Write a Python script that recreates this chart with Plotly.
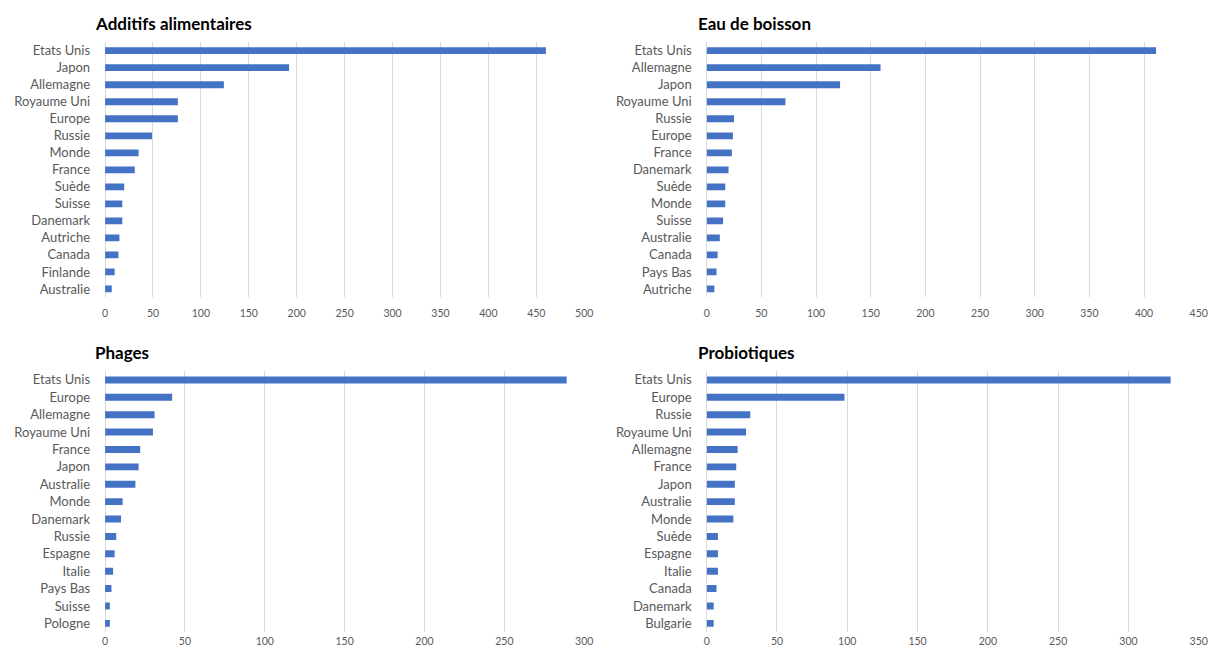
import plotly.graph_objects as go

# ---- Data ----
additifs_pays = ["Etats Unis", "Japon", "Allemagne", "Royaume Uni", "Europe", "Russie", "Monde",
                 "France", "Suède", "Suisse", "Danemark", "Autriche", "Canada", "Finlande", "Australie"]
additifs_vals = [460, 192, 124, 76, 76, 49, 35, 31, 20, 18, 18, 15, 14, 10, 7]

eau_pays = ["Etats Unis", "Allemagne", "Japon", "Royaume Uni", "Russie", "Europe", "France",
            "Danemark", "Suède", "Monde", "Suisse", "Australie", "Canada", "Pays Bas", "Autriche"]
eau_vals = [411, 159, 122, 72, 25, 24, 23, 20, 17, 17, 15, 12, 10, 9, 7]

phages_pays = ["Etats Unis", "Europe", "Allemagne", "Royaume Uni", "France", "Japon", "Australie",
               "Monde", "Danemark", "Russie", "Espagne", "Italie", "Pays Bas", "Suisse", "Pologne"]
phages_vals = [289, 42, 31, 30, 22, 21, 19, 11, 10, 7, 6, 5, 4, 3, 3]

probio_pays = ["Etats Unis", "Europe", "Russie", "Royaume Uni", "Allemagne", "France", "Japon",
               "Australie", "Monde", "Suède", "Espagne", "Italie", "Canada", "Danemark", "Bulgarie"]
probio_vals = [330, 98, 31, 28, 22, 21, 20, 20, 19, 8, 8, 8, 7, 5, 5]

titles = ["Additifs alimentaires", "Eau de boisson", "Phages", "Probiotiques"]
x_max = [500, 450, 300, 350]
x_dtick = [50, 50, 50, 50]

# page body has an 8px margin: work in window pixels and shift by OFF,
# keeping the figure small enough that the page never overflows the window
OFF = 8
W, H = 1218 - 2 * OFF, 655 - 2 * OFF
BLUE = "#4472C4"
GRID = "#d9d9d9"
LABEL = "#595959"
FONT = "Lato, 'Open Sans', sans-serif"

# (categories, values, x-span in window px, y-span in window px, tick standoff)
panels = [
    (additifs_pays, additifs_vals, (103, 587), (42.4, 299.3), 8),
    (eau_pays, eau_vals, (710.7, 1207.7), (42.4, 299.3), 8),
    (phages_pays, phages_vals, (103, 587), (373.5, 636), 1),
    (probio_pays, probio_vals, (710.7, 1207.7), (373.5, 636), 1),
]

fig = go.Figure()
layout = dict(width=W, height=H, margin=dict(l=0, r=0, t=0, b=0),
              paper_bgcolor="white", plot_bgcolor="white", showlegend=False,
              bargap=0.6, font=dict(family=FONT, color=LABEL, size=12))

annotations = []
for i, (cats, vals, (x0, x1), (ytop, ybot), xs) in enumerate(panels):
    n = i + 1
    xa = "x" if n == 1 else f"x{n}"
    ya = "y" if n == 1 else f"y{n}"
    fig.add_trace(go.Bar(x=vals, y=cats, orientation="h", marker=dict(color=BLUE, line=dict(width=0)),
                         xaxis=xa, yaxis=ya, hoverinfo="x+y"))
    xkey = "xaxis" if n == 1 else f"xaxis{n}"
    ykey = "yaxis" if n == 1 else f"yaxis{n}"
    layout[xkey] = dict(domain=[(x0 - OFF) / W, (x1 - OFF) / W], anchor=ya, range=[0, x_max[i]],
                        dtick=x_dtick[i], showgrid=True, gridcolor=GRID, gridwidth=1, zeroline=True,
                        zerolinecolor=GRID, zerolinewidth=1, showline=False, ticks="",
                        tickfont=dict(size=10.5, color=LABEL), ticklabelstandoff=xs, fixedrange=True)
    layout[ykey] = dict(domain=[1 - (ybot - OFF) / H, 1 - (ytop - OFF) / H], anchor=xa,
                        autorange="reversed", type="category", showgrid=False, showline=False,
                        ticks="", tickfont=dict(size=13, color=LABEL), ticklabelstandoff=14,
                        fixedrange=True)
    tx = 91 if i % 2 == 0 else 700
    ty = 24 if i < 2 else 355
    annotations.append(dict(text=f"<b>{titles[i]}</b>", xref="paper", yref="paper",
                            x=(tx - OFF) / W, y=1 - (ty - OFF) / H, xanchor="left", yanchor="middle",
                            showarrow=False, font=dict(family=FONT, size=17, color="black")))

layout["annotations"] = annotations
fig.update_layout(**layout)
fig.write_html("out.html")
